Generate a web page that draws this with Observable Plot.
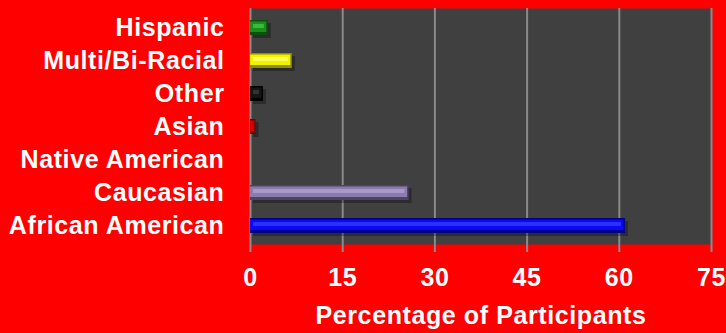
<!DOCTYPE html>
<html>
<head>
<meta charset="utf-8">
<script src="https://cdn.jsdelivr.net/npm/d3@7"></script>
<script src="https://cdn.jsdelivr.net/npm/@observablehq/plot@0.6"></script>
<style>
  html, body { margin: 0; padding: 0; background: #ff0000; }
  #chart { width: 726px; height: 333px; }
</style>
</head>
<body>
<div id="chart"></div>
<script>
const categories = ["Hispanic", "Multi/Bi-Racial", "Other", "Asian", "Native American", "Caucasian", "African American"];
const values = [2.9, 6.8, 2.1, 0.9, 0, 25.8, 61];
const baseColors = ["#1e8c1e", "#f2f200", "#151515", "#d40000", "#808080", "#8c7cab", "#0a0af0"];
const edgeColors = ["#0d4f0d", "#8f8f00", "#000000", "#7a0000", "#404040", "#4f4266", "#00008a"];
const lightColors = ["#3cc43c", "#ffff66", "#3a3a3a", "#ff4040", "#a0a0a0", "#ae9ed0", "#3535ff"];
const xTicks = [0, 15, 30, 45, 60, 75];
const xTitle = "Percentage of Participants";

const data = categories.map((c, i) => ({
  category: c, value: values[i],
  base: baseColors[i], edge: edgeColors[i], light: lightColors[i]
}));

const font = "'Liberation Sans', Arial, sans-serif";

const chart = Plot.plot({
  width: 726,
  height: 333,
  marginLeft: 250,
  marginRight: 15,
  marginTop: 8,
  marginBottom: 89,
  style: {background: "#ff0000", color: "white", fontFamily: font, overflow: "visible"},
  x: {domain: [0, 75], axis: null},
  y: {domain: categories, paddingInner: 0.555, paddingOuter: 0.28, axis: null},
  marks: [
    Plot.frame({fill: "#404040", stroke: null}),
    Plot.ruleX(xTicks, {stroke: "#8a8a8a", strokeWidth: 2}),
    Plot.ruleY([0], {frameAnchor: "bottom", stroke: "#8a8a8a", strokeWidth: 2}),
    Plot.axisX({
      ticks: xTicks, tickSize: 8, tickPadding: 16, stroke: "#8a8a8a", strokeWidth: 2,
      fill: "white", fontSize: 25, fontWeight: "bold", label: null
    }),
    Plot.axisY({
      tickSize: 0, tickPadding: 26, fill: "white", fontSize: 25, fontWeight: "bold", label: null
    }),
    Plot.text([xTitle], {
      frameAnchor: "bottom", dy: 79, text: d => d, fill: "white",
      fontSize: 25, fontWeight: "bold", lineAnchor: "bottom"
    }),
    // drop shadow
    Plot.barX(data, {x: "value", y: "category", fill: "black", fillOpacity: 0.3, dx: 3, dy: 3}),
    // bevel edge
    Plot.barX(data, {x: "value", y: "category", fill: "edge"}),
    // main face
    Plot.barX(data, {x: "value", y: "category", fill: "base", insetTop: 1.5, insetBottom: 3, insetRight: 1.5}),
    // highlight
    Plot.barX(data, {x: "value", y: "category", fill: "light", insetTop: 4, insetBottom: 7, insetLeft: 3, insetRight: 4, fillOpacity: 0.85})
  ]
});
chart.style.letterSpacing = "0.6px";
document.getElementById("chart").appendChild(chart);
</script>
</body>
</html>
